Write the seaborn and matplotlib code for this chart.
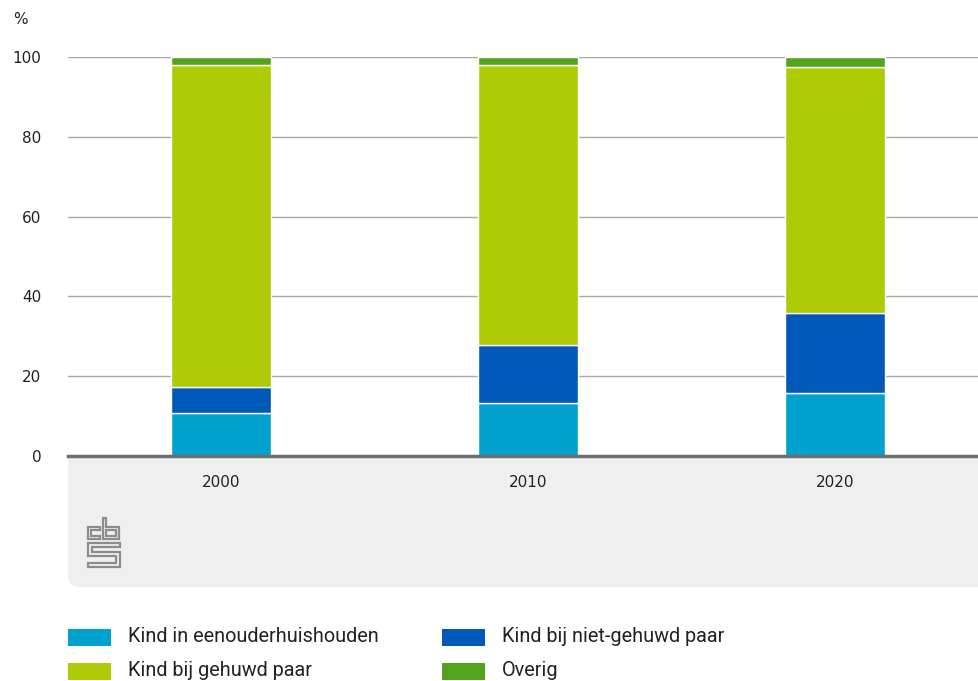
import matplotlib
matplotlib.use("Agg")
import matplotlib.pyplot as plt
from matplotlib.patches import FancyBboxPatch, Rectangle, Polygon
import numpy as np
import pandas as pd
import seaborn as sns

# ---- data ----
years = ["2000", "2010", "2020"]
eenouder = [10.8, 13.2, 15.7]
niet_gehuwd = [6.6, 14.5, 20.1]
gehuwd = [80.6, 70.3, 61.7]
overig = [2.0, 2.0, 2.5]

series_names = ["Kind in eenouderhuishouden", "Kind bij niet-gehuwd paar",
                "Kind bij gehuwd paar", "Overig"]
series_values = [eenouder, niet_gehuwd, gehuwd, overig]
series_colors = ["#00A1CD", "#0058B8", "#AFCB05", "#53A31D"]
yticks = [0, 20, 40, 60, 80, 100]

W, H = 979, 681
sns.set_theme(style="white")
plt.rcParams["font.family"] = ["DejaVu Sans"]

fig = plt.figure(figsize=(W / 100, H / 100), dpi=100)
fig.patch.set_facecolor("white")

def fx(px):
    return px / W

def fy(py):
    return 1 - py / H

# grey panel under the axis
panel_col = "#EFEFEF"
fig.patches.append(FancyBboxPatch((fx(68), fy(587)), fx(1010) - fx(68), fy(456) - fy(587),
                                  boxstyle="round,pad=0,rounding_size=0.012",
                                  transform=fig.transFigure, facecolor=panel_col,
                                  edgecolor="none", zorder=-2, mutation_aspect=W / H))
fig.patches.append(Rectangle((fx(68), fy(530)), fx(1010) - fx(68), fy(456) - fy(530),
                             transform=fig.transFigure, facecolor=panel_col,
                             edgecolor="none", zorder=-2))

ax = fig.add_axes([fx(68), fy(456), 1 - fx(68), fy(57) - fy(456)])
ax.set_facecolor("none")
ax.set_zorder(1)

df = pd.DataFrame({"year": years})
bottom = np.zeros(len(years))
for name, vals, col in zip(series_names, series_values, series_colors):
    df[name] = vals
    sns.barplot(data=df, x="year", y=name, order=years, color=col, bottom=bottom,
                width=0.326, edgecolor="white", linewidth=1.0, ax=ax, zorder=3,
                saturation=1)
    bottom = bottom + np.array(vals)

ax.set_xlim(-0.498, 2.469)
ax.set_ylim(0, 100)
ax.set_yticks(yticks)
ax.set_yticklabels([str(v) for v in yticks])
ax.set_xlabel("")
ax.set_ylabel("")
for s in ["top", "right", "left"]:
    ax.spines[s].set_visible(False)
ax.spines["bottom"].set_color("#6E6E6E")
ax.spines["bottom"].set_linewidth(2.5)
ax.spines["bottom"].set_zorder(5)
ax.yaxis.grid(True, color="#A8A8A8", linewidth=1.0, zorder=1)
ax.set_axisbelow(True)
for lab in ax.get_xticklabels() + ax.get_yticklabels():
    lab.set_family("DejaVu Sans")
ax.tick_params(axis="y", length=0, pad=19, labelsize=11, labelcolor="#222222")
ax.tick_params(axis="x", length=0, pad=14, labelsize=11, labelcolor="#222222")

fig.text(fx(13), fy(20), "%", fontsize=11, color="#222222", va="center", ha="left",
         family="DejaVu Sans")

# cbs logo
logo_col = "#8C8C8C"
def pts(lst):
    return [(fx(x), fy(y)) for x, y in lst]
logo_shapes = [
    [(100, 527), (88, 527), (88, 539), (100, 539), (100, 536), (91, 536), (91, 530), (100, 530)],
    [(103, 518), (103, 539), (119, 539), (119, 527), (106, 527), (106, 518)],
    [(106, 530), (116, 530), (116, 536), (106, 536)],
    [(120, 543), (88, 543), (88, 556), (116, 556), (116, 563), (88, 563), (88, 567),
     (120, 567), (120, 552), (92, 552), (92, 547), (120, 547)],
]
for shp in logo_shapes:
    fig.patches.append(Polygon(pts(shp), closed=True, transform=fig.transFigure,
                               facecolor="none", edgecolor=logo_col, linewidth=1.6,
                               zorder=-1))

# legend
leg_items = [(0, 0), (1, 0), (0, 1), (1, 1)]
col_x = [68, 442]
row_y = [637, 671]
for (c, r), name, col in zip(leg_items, series_names, series_colors):
    x0 = col_x[c]
    yc = row_y[r]
    fig.patches.append(Rectangle((fx(x0), fy(yc + 8.5)), fx(43), fy(0) - fy(17),
                                 transform=fig.transFigure, facecolor=col, edgecolor="none"))
    fig.text(fx(x0 + 60), fy(yc), name, fontsize=14.3, family=["Roboto", "DejaVu Sans"],
             color="#222222", va="center", ha="left")

fig.savefig("out.png", dpi=100)
